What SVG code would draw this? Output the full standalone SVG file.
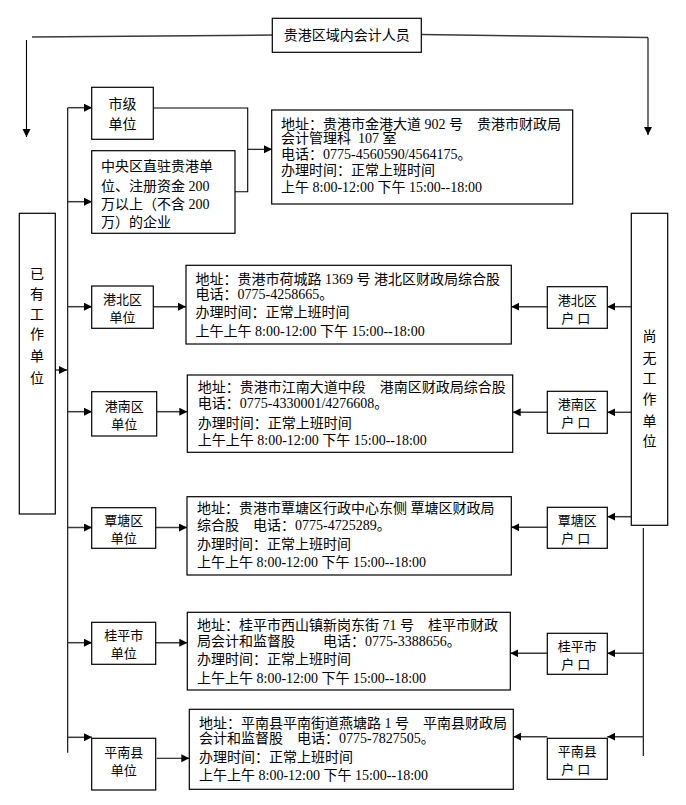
<svg xmlns="http://www.w3.org/2000/svg" width="686" height="805" viewBox="0 0 686 805">
<style>
.box{fill:#fff;stroke:#000;stroke-width:1.2}
.cn{font-family:"Noto Sans CJK SC",sans-serif;font-size:14px;fill:#000}
.sm{font-family:"Noto Sans CJK SC",sans-serif;font-size:13px;fill:#000}
.mx{font-family:"Liberation Serif","Noto Sans CJK SC",serif;font-size:14px;fill:#000}
.c{text-anchor:middle}
.ln{fill:none;stroke:#000;stroke-width:1.1}
.ar{fill:none;stroke:#3a3a3a;stroke-width:1.5}
</style>
<defs>
<marker id="ah" markerUnits="userSpaceOnUse" markerWidth="10" markerHeight="10" refX="8" refY="4" orient="auto">
<path d="M0,0 L8,4 L0,8 Z" fill="#000"/>
</marker>
</defs>
<rect width="686" height="805" fill="#fff"/>

<g id="connectors">
<polyline class="ar" points="32,37 272,35"/>
<line class="ln" x1="26.5" y1="40" x2="26.5" y2="137" marker-end="url(#ah)"/>
<polyline class="ar" points="421,34.5 648,37.5"/>
<line class="ln" x1="648" y1="37.5" x2="648" y2="135" marker-end="url(#ah)"/>
<line class="ln" x1="67.7" y1="107.7" x2="67.7" y2="752.7"/>
<line class="ar" x1="67.7" y1="107.7" x2="92" y2="107.7" marker-end="url(#ah)"/>
<line class="ar" x1="67.7" y1="201.7" x2="92" y2="201.7" marker-end="url(#ah)"/>
<line class="ar" x1="67.7" y1="306.7" x2="92" y2="306.7" marker-end="url(#ah)"/>
<line class="ar" x1="67.7" y1="411.7" x2="92" y2="411.7" marker-end="url(#ah)"/>
<line class="ar" x1="67.7" y1="527.5" x2="92" y2="527.5" marker-end="url(#ah)"/>
<line class="ar" x1="67.7" y1="642.7" x2="92" y2="642.7" marker-end="url(#ah)"/>
<line class="ar" x1="67.7" y1="737.3" x2="92" y2="737.3" marker-end="url(#ah)"/>
<line class="ar" x1="55" y1="370" x2="67" y2="370" marker-end="url(#ah)"/>
<polyline class="ln" points="152,108 247.7,108 247.7,191.7 235,191.7"/>
<line class="ln" x1="247.7" y1="149.3" x2="272" y2="149.3" marker-end="url(#ah)"/>
<line class="ar" x1="153.3" y1="306.7" x2="186" y2="306.7" marker-end="url(#ah)"/>
<line class="ar" x1="156.7" y1="411.7" x2="187.3" y2="411.7" marker-end="url(#ah)"/>
<line class="ar" x1="155.7" y1="527.5" x2="187" y2="527.5" marker-end="url(#ah)"/>
<line class="ar" x1="155.7" y1="642.7" x2="187.3" y2="642.7" marker-end="url(#ah)"/>
<line class="ln" x1="156.7" y1="758.3" x2="189.3" y2="758.3" marker-end="url(#ah)"/>
<line class="ar" x1="631.3" y1="306.7" x2="607.3" y2="306.7" marker-end="url(#ah)"/>
<line class="ar" x1="547.3" y1="306.7" x2="511.3" y2="306.7" marker-end="url(#ah)"/>
<line class="ar" x1="631.3" y1="412.3" x2="607.3" y2="412.3" marker-end="url(#ah)"/>
<line class="ar" x1="547.3" y1="412.3" x2="512.7" y2="412.3" marker-end="url(#ah)"/>
<line class="ar" x1="631.3" y1="516.7" x2="607.3" y2="516.7" marker-end="url(#ah)"/>
<line class="ar" x1="547.3" y1="527.3" x2="511.3" y2="527.3" marker-end="url(#ah)"/>
<line class="ln" x1="643.3" y1="528" x2="643.3" y2="756"/>
<line class="ar" x1="643.3" y1="653.3" x2="607.3" y2="653.3" marker-end="url(#ah)"/>
<line class="ar" x1="547.3" y1="653.3" x2="510.3" y2="653.3" marker-end="url(#ah)"/>
<line class="ar" x1="643.3" y1="736.7" x2="607.3" y2="736.7" marker-end="url(#ah)"/>
<line class="ar" x1="547.3" y1="736.7" x2="513.3" y2="736.7" marker-end="url(#ah)"/>
</g>

<g id="top">
<rect class="box" x="272.3" y="18.3" width="149" height="34"/>
<text class="cn c" x="346.8" y="34" dominant-baseline="central">贵港区域内会计人员</text>
</g>

<g id="left-main">
<rect class="box" x="19.3" y="213.3" width="36" height="300.7"/>
<text class="cn c" x="37" dominant-baseline="central"><tspan x="37" y="272.7">已</tspan><tspan x="37" y="293">有</tspan><tspan x="37" y="313">工</tspan><tspan x="37" y="333">作</tspan><tspan x="37" y="355">单</tspan><tspan x="37" y="377">位</tspan></text>
</g>

<g id="right-main">
<rect class="box" x="631.3" y="213.3" width="36.4" height="312"/>
<text class="cn c" x="649.5" dominant-baseline="central"><tspan x="649.5" y="335">尚</tspan><tspan x="649.5" y="357">无</tspan><tspan x="649.5" y="377">工</tspan><tspan x="649.5" y="398">作</tspan><tspan x="649.5" y="420">单</tspan><tspan x="649.5" y="440">位</tspan></text>
</g>

<g id="u-shiji">
<rect class="box" x="91.7" y="87.3" width="61.6" height="52"/>
<text class="cn c" dominant-baseline="central"><tspan x="122.5" y="103">市级</tspan><tspan x="122.5" y="123">单位</tspan></text>
</g>

<g id="u-zhongyang">
<rect class="box" x="91.7" y="150.7" width="143.3" height="82.6"/>
<text class="mx" dominant-baseline="central"><tspan x="101" y="166">中央区直驻贵港单</tspan><tspan x="101" y="186">位、注册资金 200</tspan><tspan x="101" y="204">万以上（不含 200</tspan><tspan x="101" y="222">万）的企业</tspan></text>
</g>

<g id="info-guigang">
<rect class="box" x="271.7" y="110" width="301" height="94"/>
<text class="mx" dominant-baseline="central"><tspan x="281" y="124">地址：贵港市金港大道 902 号　贵港市财政局</tspan><tspan x="281" y="138">会计管理科&#160; 107 室</tspan><tspan x="281" y="154.3">电话：0775-4560590/4564175。</tspan><tspan x="281" y="170">办理时间：正常上班时间</tspan><tspan x="281" y="186.7">上午 8:00-12:00 下午 15:00--18:00</tspan></text>
</g>

<g id="u-gangbei">
<rect class="box" x="91.7" y="286" width="61.6" height="42.3"/>
<text class="sm c" dominant-baseline="central"><tspan x="122.5" y="298.2">港北区</tspan><tspan x="122.5" y="316.2">单位</tspan></text>
</g>
<g id="info-gangbei">
<rect class="box" x="186" y="265.3" width="325.3" height="78.7"/>
<text class="mx" dominant-baseline="central"><tspan x="195.6" y="279.3">地址：贵港市荷城路 1369 号 港北区财政局综合股</tspan><tspan x="195.6" y="294.3">电话：0775-4258665。</tspan><tspan x="195.6" y="312.3">办理时间：正常上班时间</tspan><tspan x="195.6" y="331">上午上午 8:00-12:00 下午 15:00--18:00</tspan></text>
</g>
<g id="h-gangbei">
<rect class="box" x="547.3" y="286.7" width="60" height="41.6"/>
<text class="sm c" dominant-baseline="central"><tspan x="577.3" y="298.5">港北区</tspan><tspan x="577.3" y="316.5" letter-spacing="3">户口</tspan></text>
</g>

<g id="u-gangnan">
<rect class="box" x="91.7" y="391.7" width="65" height="44.3"/>
<text class="sm c" dominant-baseline="central"><tspan x="124.2" y="404.8">港南区</tspan><tspan x="124.2" y="422.8">单位</tspan></text>
</g>
<g id="info-gangnan">
<rect class="box" x="187.3" y="375" width="325.4" height="77.3"/>
<text class="mx" dominant-baseline="central"><tspan x="197.8" y="386.7">地址：贵港市江南大道中段　港南区财政局综合股</tspan><tspan x="197.8" y="402.7">电话：0775-4330001/4276608。</tspan><tspan x="197.8" y="422.7">办理时间：正常上班时间</tspan><tspan x="197.8" y="440">上午上午 8:00-12:00 下午 15:00--18:00</tspan></text>
</g>
<g id="h-gangnan">
<rect class="box" x="547.3" y="391.3" width="60" height="42"/>
<text class="sm c" dominant-baseline="central"><tspan x="577.3" y="403.3">港南区</tspan><tspan x="577.3" y="421.3" letter-spacing="3">户口</tspan></text>
</g>

<g id="u-tantang">
<rect class="box" x="91.7" y="507.7" width="64" height="40.6"/>
<text class="sm c" dominant-baseline="central"><tspan x="123.7" y="519">覃塘区</tspan><tspan x="123.7" y="537">单位</tspan></text>
</g>
<g id="info-tantang">
<rect class="box" x="187" y="496.7" width="324.3" height="78.3"/>
<text class="mx" dominant-baseline="central"><tspan x="197" y="508.3">地址：贵港市覃塘区行政中心东侧 覃塘区财政局</tspan><tspan x="197" y="525">综合股　电话：0775-4725289。</tspan><tspan x="197" y="544.3">办理时间：正常上班时间</tspan><tspan x="197" y="561.7">上午上午 8:00-12:00 下午 15:00--18:00</tspan></text>
</g>
<g id="h-tantang">
<rect class="box" x="547.3" y="507.3" width="60" height="41"/>
<text class="sm c" dominant-baseline="central"><tspan x="577.3" y="519">覃塘区</tspan><tspan x="577.3" y="537" letter-spacing="3">户口</tspan></text>
</g>

<g id="u-guiping">
<rect class="box" x="91.7" y="622.3" width="64" height="42"/>
<text class="sm c" dominant-baseline="central"><tspan x="123.7" y="634.3">桂平市</tspan><tspan x="123.7" y="652.3">单位</tspan></text>
</g>
<g id="info-guiping">
<rect class="box" x="187.3" y="612.3" width="323" height="77.7"/>
<text class="mx" dominant-baseline="central"><tspan x="197" y="625">地址：桂平市西山镇新岗东街 71 号　桂平市财政</tspan><tspan x="197" y="641">局会计和监督股　　电话：0775-3388656。</tspan><tspan x="197" y="659">办理时间：正常上班时间</tspan><tspan x="197" y="678.3">上午上午 8:00-12:00 下午 15:00--18:00</tspan></text>
</g>
<g id="h-guiping">
<rect class="box" x="547.3" y="633.3" width="60" height="41"/>
<text class="sm c" dominant-baseline="central"><tspan x="577.3" y="645">桂平市</tspan><tspan x="577.3" y="663" letter-spacing="3">户口</tspan></text>
</g>

<g id="u-pingnan">
<rect class="box" x="91.7" y="738.3" width="64" height="51.7"/>
<text class="sm c" dominant-baseline="central"><tspan x="123.7" y="750.5">平南县</tspan><tspan x="123.7" y="768.5">单位</tspan></text>
</g>
<g id="info-pingnan">
<rect class="box" x="189.3" y="709.3" width="324" height="80"/>
<text class="mx" dominant-baseline="central"><tspan x="199" y="723.3">地址：平南县平南街道燕塘路 1 号　平南县财政局</tspan><tspan x="199" y="738.3">会计和监督股　电话：0775-7827505。</tspan><tspan x="199" y="756.7">办理时间：正常上班时间</tspan><tspan x="199" y="775">上午上午 8:00-12:00 下午 15:00--18:00</tspan></text>
</g>
<g id="h-pingnan">
<rect class="box" x="547.3" y="738.3" width="60" height="41"/>
<text class="sm c" dominant-baseline="central"><tspan x="577.3" y="750">平南县</tspan><tspan x="577.3" y="768" letter-spacing="3">户口</tspan></text>
</g>
</svg>
